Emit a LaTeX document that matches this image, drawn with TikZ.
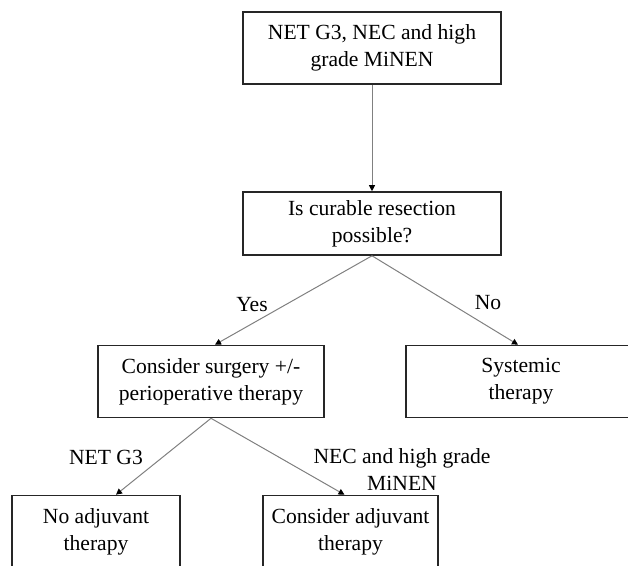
\documentclass[tikz,border=0pt]{standalone}
\usepackage{fontspec}
\setmainfont{Liberation Serif}
\usetikzlibrary{arrows.meta}
\begin{document}
\begin{tikzpicture}[x=0.5pt,y=-0.5pt,
    every node/.style={font=\fontsize{10.8}{13.5}\selectfont,align=center,inner sep=0},
    box/.style={draw=black!85,line width=0.8pt,minimum height=36pt},
    link/.style={draw=black!50,line width=0.5pt,-{Triangle[length=3pt,width=3pt,color=black]}}]
    \useasboundingbox (0,0) rectangle (628,566);
    \clip (0,0) rectangle (628,566);
    \node[box,minimum width=129pt] (start) at (372,48){NET G3, NEC and high\\grade MiNEN};
    \node[box,minimum width=129pt,minimum height=31.5pt] (resect) at (372,223.5){Is curable resection\\possible?};
    \node[box,minimum width=113pt] (surgery) at (211,381.5){Consider surgery +/-\\perioperative therapy};
    \node[box,minimum width=115pt] (systemic) at (521,381.5){Systemic\\therapy};
    \node[box,minimum width=84pt] (noadj) at (96,531.5){No adjuvant\\therapy};
    \node[box,minimum width=87.5pt] (adj) at (350.5,531.5){Consider adjuvant\\therapy};

    \node (yes) at (252,305){Yes};
    \node (no) at (488,303){No};
    \node (netg3) at (106,457){NET G3};
    \node (nec) at (402,470){NEC and high grade\\MiNEN};

    \draw[link] (start) -- (resect);
    \draw[link] (resect.south) -- ([xshift=2pt]surgery.north);
    \draw[link] (resect.south) -- ([xshift=-1.5pt]systemic.north);
    \draw[link] (surgery.south) -- ([xshift=10pt]noadj.north);
    \draw[link] (surgery.south) -- ([xshift=-3pt]adj.north);
\end{tikzpicture}
\end{document}
